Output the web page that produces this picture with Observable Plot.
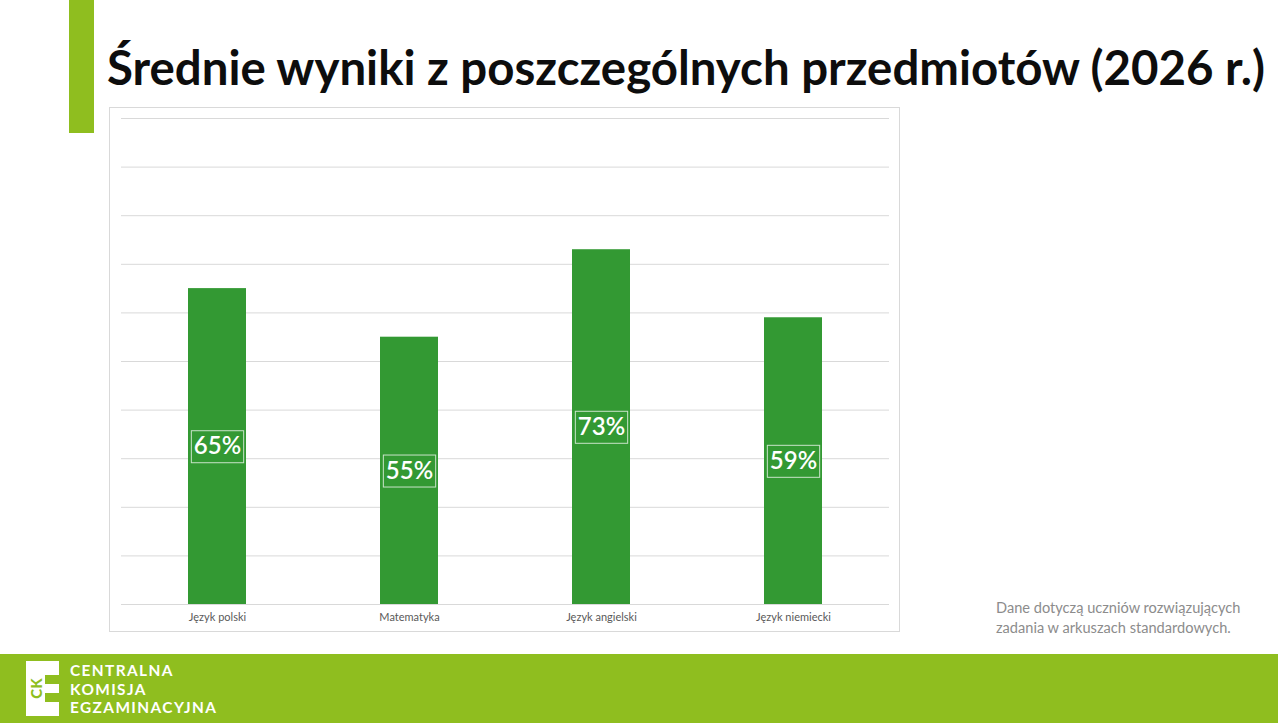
<!DOCTYPE html>
<html>
<head>
<meta charset="utf-8">
<script src="https://cdn.jsdelivr.net/npm/d3@7"></script>
<script src="https://cdn.jsdelivr.net/npm/@observablehq/plot@0.6"></script>
<style>
  html, body { margin: 0; padding: 0; background: #fff; }
  body { width: 1278px; height: 723px; position: relative; overflow: hidden; font-family: Lato, "Open Sans", sans-serif; }
  #accent { position: absolute; left: 69px; top: 0; width: 25px; height: 133px; background: #8fbe1f; }
  #title { position: absolute; left: 107px; top: 37px; margin: 0; font: 700 47.4px Lato, sans-serif; color: #0d0d0d; white-space: nowrap; line-height: 60px; }
  #frame { position: absolute; left: 109px; top: 107px; width: 789px; height: 523px; border: 1px solid #d9d9d9; }
  #frame svg { display: block; }
  #note { position: absolute; left: 996px; top: 598px; font: 14.6px Lato, sans-serif; color: #8c8c8c; line-height: 20px; }
  #band { position: absolute; left: 0; top: 654px; width: 1278px; height: 69px; background: #8fbe1f; }
  #logo { position: absolute; left: 0; top: 0; }
  #org { position: absolute; left: 70px; top: 7px; font: 700 15.4px Lato, sans-serif; color: #fff; line-height: 18.5px; letter-spacing: 1.4px; }
</style>
</head>
<body>
<div id="accent"></div>
<h1 id="title">Średnie wyniki z poszczególnych przedmiotów (2026 r.)</h1>
<div id="frame"></div>
<div id="note">Dane dotyczą uczniów rozwiązujących<br>zadania w arkuszach standardowych.</div>
<div id="band">
  <svg id="logo" width="70" height="69">
    <rect x="26" y="7" width="33" height="55" fill="#fff"/>
    <rect x="45" y="21" width="14" height="9" fill="#8fbe1f"/>
    <rect x="45" y="39" width="14" height="9" fill="#8fbe1f"/>
    <text transform="translate(37,34.5) rotate(-90)" text-anchor="middle" dy="0.35em" font-family="Lato, sans-serif" font-weight="900" font-size="15" fill="#8fbe1f">CK</text>
  </svg>
  <div id="org">CENTRALNA<br>KOMISJA<br>EGZAMINACYJNA</div>
</div>
<script>
const subjects = ["Język polski", "Matematyka", "Język angielski", "Język niemiecki"];
const scores = [65, 55, 73, 59];
const gridTicks = [10, 20, 30, 40, 50, 60, 70, 80, 90, 100];

const data = subjects.map((s, i) => ({subject: s, score: scores[i]}));

const chart = Plot.plot({
  width: 789,
  height: 523,
  marginLeft: 11,
  marginRight: 10,
  marginTop: 10,
  marginBottom: 27,
  style: {fontFamily: "Lato, sans-serif", background: "transparent"},
  x: {domain: subjects, paddingInner: 0.7, paddingOuter: 0.35, label: null, axis: null},
  y: {domain: [0, 100], axis: null},
  marks: [
    Plot.ruleY(gridTicks, {stroke: "#d9d9d9", strokeWidth: 1}),
    Plot.ruleY([0], {stroke: "#d9d9d9", strokeWidth: 1}),
    Plot.barY(data, {x: "subject", y: "score", fill: "#339933"}),
    Plot.text(data, {
      x: "subject",
      y: d => d.score / 2,
      text: d => d.score + "%",
      fill: "#fff",
      fontSize: 24,
      fontWeight: 600,
      className: "vlabel"
    }),
    Plot.axisX({tickSize: 0, tickPadding: 9, fontSize: 11, color: "#595959", label: null})
  ]
});
document.getElementById("frame").appendChild(chart);

// draw thin outline boxes around the value labels, sized from the rendered text
chart.querySelectorAll("g.vlabel text").forEach(t => {
  const b = t.getBBox();
  const r = document.createElementNS("http://www.w3.org/2000/svg", "rect");
  r.setAttribute("x", b.x - 2.5);
  r.setAttribute("y", b.y + 0.5);
  r.setAttribute("width", b.width + 5);
  r.setAttribute("height", b.height + 3);
  r.setAttribute("fill", "none");
  r.setAttribute("stroke", "#c9e3c9");
  r.setAttribute("stroke-width", 1);
  const tr = t.getAttribute("transform");
  if (tr) r.setAttribute("transform", tr);
  t.parentNode.insertBefore(r, t);
});
</script>
</body>
</html>
